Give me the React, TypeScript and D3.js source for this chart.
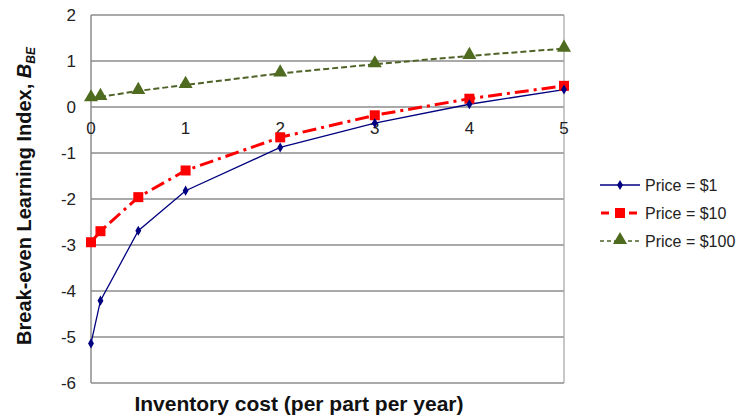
import React from "react";
import * as d3 from "d3";

const xValues = [0, 0.1, 0.5, 1, 2, 3, 4, 5];
const price1 = [-5.14, -4.21, -2.69, -1.82, -0.88, -0.35, 0.06, 0.38];
const price10 = [-2.94, -2.7, -1.96, -1.38, -0.66, -0.18, 0.18, 0.46];
const price100 = [0.19, 0.22, 0.35, 0.48, 0.73, 0.93, 1.11, 1.27];
const yTicks = [2, 1, 0, -1, -2, -3, -4, -5, -6];
const xTicks = [0, 1, 2, 3, 4, 5];
const seriesNames = ["Price = $1", "Price = $10", "Price = $100"];

const W = 747, H = 419;
const left = 91, right = 564, top = 15, bottom = 383;

export default function App() {
  const x = d3.scaleLinear().domain([0, 5]).range([left, right]);
  const y = d3.scaleLinear().domain([-6, 2]).range([bottom, top]);
  const line = d3.line<number>().x((_, i) => x(xValues[i])).y((d) => y(d));
  const font = "Arial, 'Liberation Sans', sans-serif";
  const tri = d3.symbol().type(d3.symbolTriangle).size(85)()!;
  const diamond = d3.symbol().type(d3.symbolDiamond).size(30)()!;

  const legendY = [185, 213, 241];

  return (
    <svg width={W} height={H} style={{ position: "absolute", left: 0, top: 0, background: "#fff" }} fontFamily={font}>
      {yTicks.map((t) => (
        <line key={"g" + t} x1={left} x2={right} y1={y(t)} y2={y(t)} stroke="#8c8c8c" strokeWidth={1.3} />
      ))}
      <line x1={left} x2={left} y1={top} y2={bottom} stroke="#8c8c8c" strokeWidth={1.5} />
      <line x1={right} x2={right} y1={top} y2={bottom} stroke="#aaaaaa" strokeWidth={1.3} />
      {yTicks.map((t) => (
        <text key={"y" + t} x={76} y={y(t)} dy="0.35em" textAnchor="end" fontSize={17} fill="#222">
          {t}
        </text>
      ))}
      {xTicks.map((t) => (
        <text key={"x" + t} x={x(t)} y={y(0) + 21} dy="0.35em" textAnchor="middle" fontSize={17} fill="#222">
          {t}
        </text>
      ))}
      {/* series */}
      <path d={line(price100)!} fill="none" stroke="#4f6228" strokeWidth={2} strokeDasharray="6,3" />
      <path d={line(price10)!} fill="none" stroke="#ff0000" strokeWidth={3} strokeDasharray="14,5,3,5" />
      <path d={line(price1)!} fill="none" stroke="#000080" strokeWidth={1.3} />
      {price100.map((v, i) => (
        <path key={"t" + i} d={tri} transform={`translate(${x(xValues[i])},${y(v) - 1})`} fill="#4e6b1f" />
      ))}
      {price10.map((v, i) => (
        <rect key={"s" + i} x={x(xValues[i]) - 5} y={y(v) - 5} width={10} height={10} fill="#ff0000" />
      ))}
      {price1.map((v, i) => (
        <path key={"d" + i} d={diamond} transform={`translate(${x(xValues[i])},${y(v)})`} fill="#000080" />
      ))}
      {/* axis titles */}
      <text transform={`translate(31,196) rotate(-90)`} textAnchor="middle" fontSize={20} fontWeight="bold" fill="#111">
        Break-even Learning Index, <tspan fontStyle="italic">B</tspan>
        <tspan fontStyle="italic" fontSize={12} dy={4}>BE</tspan>
      </text>
      <text x={299} y={411} textAnchor="middle" fontSize={21} fontWeight="bold" fill="#111">
        Inventory cost (per part per year)
      </text>
      {/* legend */}
      <g>
        <line x1={600} x2={640} y1={legendY[0]} y2={legendY[0]} stroke="#000080" strokeWidth={1.3} />
        <path d={diamond} transform={`translate(620,${legendY[0]})`} fill="#000080" />
        <line x1={600} x2={640} y1={legendY[1]} y2={legendY[1]} stroke="#ff0000" strokeWidth={3} strokeDasharray="8,6" strokeDashoffset={-1} />
        <rect x={615} y={legendY[1] - 5} width={10} height={10} fill="#ff0000" />
        <line x1={600} x2={640} y1={legendY[2]} y2={legendY[2]} stroke="#4f6228" strokeWidth={1.5} strokeDasharray="4,3" />
        <path d={tri} transform={`translate(620,${legendY[2] - 1})`} fill="#4e6b1f" />
        {seriesNames.map((n, i) => (
          <text key={n} x={645} y={legendY[i]} dy="0.35em" fontSize={16} fill="#222">
            {n}
          </text>
        ))}
      </g>
    </svg>
  );
}
